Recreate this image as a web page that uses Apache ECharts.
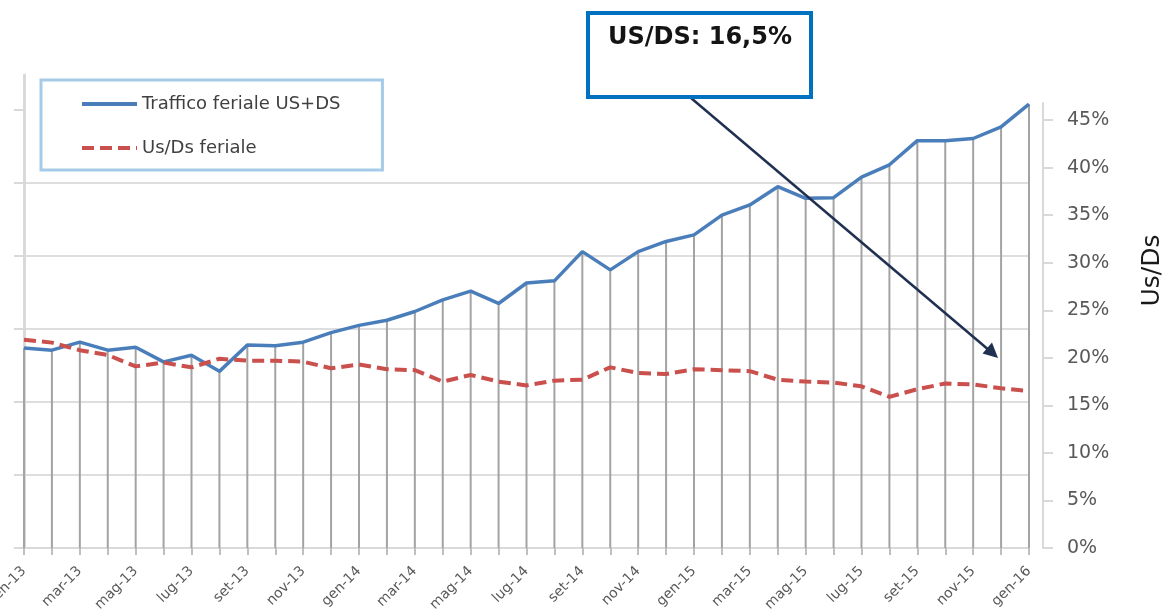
<!DOCTYPE html>
<html>
<head>
<meta charset="utf-8">
<script src="https://cdn.jsdelivr.net/npm/echarts@6/dist/echarts.min.js"></script>
<style>
html,body{margin:0;padding:0;background:#fff;}
#chart{width:1164px;height:614px;}
</style>
</head>
<body>
<div id="chart"></div>
<script>
const categories = ['gen-13','feb-13','mar-13','apr-13','mag-13','giu-13','lug-13','ago-13','set-13','ott-13','nov-13','dic-13',
  'gen-14','feb-14','mar-14','apr-14','mag-14','giu-14','lug-14','ago-14','set-14','ott-14','nov-14','dic-14',
  'gen-15','feb-15','mar-15','apr-15','mag-15','giu-15','lug-15','ago-15','set-15','ott-15','nov-15','dic-15',
  'gen-16'];
// Traffico feriale US+DS (left axis, labels cut off in the original)
const traffic = [27.4,27.1,28.2,27.1,27.5,25.5,26.4,24.2,27.8,27.7,28.2,29.5,
  30.5,31.2,32.4,34.0,35.2,33.5,36.3,36.6,40.6,38.1,40.6,42.0,
  42.9,45.6,47.0,49.5,47.9,48.0,50.8,52.5,55.8,55.8,56.1,57.7,
  60.8];
// Us/Ds feriale (%), right axis
const usds = [21.9,21.6,20.8,20.3,19.1,19.5,19.0,19.9,19.7,19.7,19.6,18.9,
  19.3,18.8,18.7,17.5,18.2,17.5,17.1,17.6,17.7,19.0,18.4,18.3,
  18.8,18.7,18.6,17.7,17.5,17.4,17.0,15.9,16.7,17.3,17.2,16.8,
  16.5];
const leftTicks = [0,10,20,30,40,50,60];
const rightTicks = [0,5,10,15,20,25,30,35,40,45];
const seriesNames = ['Traffico feriale US+DS','Us/Ds feriale'];
const annotationText = 'US/DS: 16,5%';
const rightAxisName = 'Us/Ds';

const chart = echarts.init(document.getElementById('chart'), null, {renderer:'canvas'});
const FONT = 'DejaVu Sans';
const option = {
  animation: false,
  backgroundColor: '#ffffff',
  grid: [
    {left: 24, right: 135, top: 75, bottom: 66, containLabel: false, outerBoundsMode: 'none'},
    {left: 24, right: 135, top: 103, bottom: 66, containLabel: false, outerBoundsMode: 'none'}
  ],
  legend: {
    data: seriesNames,
    orient: 'vertical',
    left: 41,
    top: 80,
    padding: [15, 42, 13, 39],
    itemGap: 26,
    itemWidth: 55,
    itemHeight: 14,
    borderColor: '#a6cbe8',
    borderWidth: 3,
    backgroundColor: '#ffffff',
    itemStyle: {opacity: 0},
    lineStyle: {width: 4},
    textStyle: {fontFamily: FONT, fontSize: 18, color: '#404040'}
  },
  xAxis: [
    {
      type: 'category', gridIndex: 0, data: categories, boundaryGap: false,
      axisLine: {show: true, lineStyle: {color: '#d9d9d9', width: 2}},
      axisTick: {show: true, interval: 0, length: 7, lineStyle: {color: '#bfbfbf', width: 2}},
      axisLabel: {interval: 1, rotate: 45, margin: 21, fontFamily: FONT, fontSize: 14, color: '#595959'},
      splitLine: {show: false}
    },
    {
      type: 'category', gridIndex: 1, data: categories, boundaryGap: false, show: false
    }
  ],
  yAxis: [
    {
      type: 'value', gridIndex: 0, position: 'left', min: 0, max: 64.8, interval: 10,
      axisLine: {show: true, lineStyle: {color: '#d9d9d9', width: 3}},
      axisTick: {show: true, length: 10, customValues: leftTicks, lineStyle: {color: '#d9d9d9', width: 2}},
      axisLabel: {show: false},
      splitLine: {show: true, showMaxLine: false, lineStyle: {color: '#dedede', width: 2}}
    },
    {
      type: 'value', gridIndex: 1, position: 'right', offset: 14, min: 0, max: 46.8, interval: 5,
      name: rightAxisName, nameLocation: 'middle', nameRotate: 90, nameGap: 97,
      nameTextStyle: {fontFamily: FONT, fontSize: 25, color: '#1a1a1a', padding: [0, 0, 0, 110]},
      axisLine: {show: true, lineStyle: {color: '#d9d9d9', width: 2}},
      axisTick: {show: true, length: 10, customValues: rightTicks, lineStyle: {color: '#d9d9d9', width: 2}},
      axisLabel: {customValues: rightTicks, margin: 24, formatter: '{value}%', fontFamily: FONT, fontSize: 19, color: '#595959'},
      splitLine: {show: false}
    }
  ],
  series: [
    {
      name: 'drop', type: 'bar', xAxisIndex: 0, yAxisIndex: 0, data: traffic,
      barWidth: 2, itemStyle: {color: '#a3a3a3'}, z: 1, silent: true
    },
    {
      name: seriesNames[0], type: 'line', xAxisIndex: 0, yAxisIndex: 0, data: traffic,
      symbol: 'none', clip: false, z: 3,
      lineStyle: {color: '#4a7ebb', width: 3.5},
      itemStyle: {color: '#4a7ebb'}
    },
    {
      name: seriesNames[1], type: 'line', xAxisIndex: 1, yAxisIndex: 1, data: usds,
      symbol: 'none', z: 3,
      lineStyle: {color: '#c9504d', width: 4, type: [12, 6]},
      itemStyle: {color: '#c9504d'}
    }
  ],
  graphic: [
    {
      type: 'line', z: 10,
      shape: {x1: 691, y1: 98, x2: 990, y2: 351},
      style: {stroke: '#1f3050', lineWidth: 2.5}
    },
    {
      type: 'polygon', z: 10,
      shape: {points: [[998, 358], [982.5, 353.5], [992, 342.5]]},
      style: {fill: '#1f3050'}
    },
    {
      type: 'rect', z: 11,
      shape: {x: 588, y: 13, width: 223, height: 84},
      style: {fill: '#ffffff', stroke: '#0070c0', lineWidth: 4}
    },
    {
      type: 'text', z: 12, x: 700, y: 38,
      style: {text: annotationText, fontFamily: FONT, fontWeight: 'bold', fontSize: 24,
        fill: '#141414', align: 'center', verticalAlign: 'middle'}
    }
  ]
};
chart.setOption(option);
</script>
</body>
</html>
